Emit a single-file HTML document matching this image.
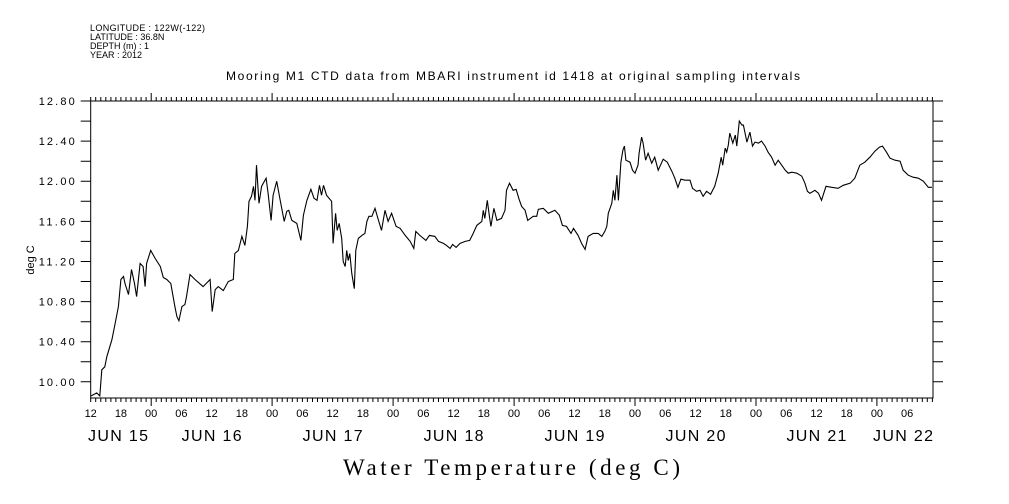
<!DOCTYPE html>
<html><head><meta charset="utf-8"><style>
body{margin:0;background:#fff;}
svg{display:block;font-family:"Liberation Sans",sans-serif;}
</style></head><body>
<svg id="chart" width="1009" height="504" viewBox="0 0 1009 504" xmlns="http://www.w3.org/2000/svg">
<rect width="1009" height="504" fill="#fff"/>
<g font-size="9" fill="#000">
<text x="90" y="31" textLength="115">LONGITUDE : 122W(-122)</text>
<text x="90" y="40">LATITUDE : 36.8N</text>
<text x="90" y="49">DEPTH (m) : 1</text>
<text x="90" y="58">YEAR : 2012</text>
</g>
<text x="226" y="80" textLength="574" font-size="12">Mooring M1 CTD data from MBARI instrument id 1418 at original sampling intervals</text>
<text transform="translate(34,260) rotate(-90)" text-anchor="middle" font-size="11">deg C</text>
<text x="343" y="475" textLength="337" font-size="23" font-family="Liberation Serif, serif">Water Temperature (deg C)</text>
<g id="axes"></g>
<g id="series"></g>
</svg>
<script>
// hours since Jun 15 12:00
const hours = [0.1,1.2,1.8,2.2,2.8,3.2,4.2,4.8,5.5,6.0,6.5,6.8,7.5,8.1,8.7,9.1,9.8,10.4,10.8,11.1,11.9,12.8,13.8,14.4,15.1,15.9,16.7,17.1,17.5,18.1,18.7,19.0,19.7,20.7,22.3,23.7,24.1,24.7,25.3,26.3,27.3,28.3,28.6,29.3,30.0,30.6,31.1,31.4,31.9,32.3,32.6,32.9,33.4,33.9,34.8,35.2,35.8,36.2,36.9,37.6,38.4,38.9,39.3,39.9,40.9,41.7,42.2,
42.9,43.7,44.3,44.9,45.4,45.8,46.2,46.8,47.8,48.1,48.6,48.9,49.3,49.8,50.1,50.5,50.8,51.1,51.4,51.8,52.3,52.6,53.1,53.8,54.4,54.8,55.2,55.8,56.4,57.1,57.7,58.4,59.0,59.7,60.6,61.4,62.4,63.4,64.1,64.5,65.3,66.5,67.2,68.3,69.0,70.0,70.6,71.3,71.8,72.5,73.3,74.3,75.2,75.9,76.6,77.6,77.9,78.2,78.7,79.1,79.4,80.0,80.6,81.5,82.2,82.5,83.1,83.8,84.4,85.0,
85.5,86.2,86.7,87.8,88.5,88.8,89.8,90.8,92.1,93.0,93.6,94.4,95.3,95.8,96.7,97.4,98.1,98.7,99.7,100.7,101.4,102.0,102.4,102.7,103.4,103.7,104.0,104.4,104.7,105.2,105.6,105.9,106.2,107.0,107.5,108.0,108.6,108.8,109.3,109.6,110.1,110.6,111.3,111.9,112.6,113.6,114.4,115.3,115.9,116.5,117.1,117.9,118.9,119.4,120.2,120.9,121.5,122.2,123.0,123.8,124.5,125.1,
125.4,125.9,126.2,126.5,126.8,127.4,127.9,128.2,128.7,129.2,129.5,130.2,130.8,131.3,131.8,132.5,133.1,133.8,134.4,135.1,135.8,136.4,137.1,137.8,138.4,139.1,140.1,141.1,141.7,142.2,142.7,143.7,144.4,145.0,145.9,147.0,148.3,149.3,150.7,151.6,152.6,153.6,154.6,155.6,156.5,157.1,157.9,158.6,159.6,160.6,161.2,162.2,163.2,164.2,165.2,166.2,166.9];
const temps = [9.86,9.89,9.86,10.12,10.15,10.25,10.42,10.57,10.75,11.02,11.05,10.98,10.87,11.12,10.98,10.85,11.18,11.15,10.95,11.18,11.31,11.23,11.15,11.04,11.02,10.98,10.75,10.65,10.61,10.75,10.77,10.85,11.07,11.02,10.95,11.02,10.70,10.92,10.95,10.91,11.00,11.02,11.28,11.31,11.45,11.36,11.55,11.80,11.85,11.95,11.81,12.16,11.78,11.95,12.03,11.88,11.61,11.86,12.00,11.81,11.60,11.70,11.71,11.61,11.58,11.41,11.66,
11.81,11.92,11.83,11.81,11.96,11.86,11.96,11.86,11.80,11.38,11.68,11.51,11.58,11.43,11.20,11.15,11.31,11.21,11.28,11.08,10.93,11.31,11.43,11.46,11.48,11.60,11.65,11.65,11.73,11.61,11.51,11.71,11.60,11.68,11.55,11.53,11.46,11.40,11.33,11.50,11.46,11.41,11.46,11.45,11.40,11.38,11.36,11.33,11.37,11.34,11.38,11.40,11.41,11.48,11.56,11.60,11.71,11.63,11.81,11.65,11.55,11.73,11.61,11.63,11.71,11.91,11.98,11.91,11.92,11.82,
11.75,11.71,11.61,11.65,11.65,11.72,11.73,11.68,11.71,11.66,11.56,11.55,11.48,11.53,11.46,11.38,11.32,11.45,11.48,11.48,11.45,11.50,11.55,11.68,11.78,11.91,11.81,12.06,11.81,12.19,12.31,12.35,12.21,12.19,12.11,12.08,12.16,12.28,12.44,12.38,12.21,12.28,12.18,12.24,12.11,12.22,12.19,12.10,12.03,11.94,12.02,12.01,12.01,11.93,11.90,11.91,11.85,11.90,11.87,11.95,12.08,12.24,
12.16,12.33,12.29,12.36,12.48,12.38,12.46,12.35,12.60,12.56,12.56,12.39,12.49,12.35,12.39,12.38,12.40,12.35,12.29,12.24,12.16,12.21,12.16,12.11,12.08,12.09,12.08,12.05,11.98,11.90,11.88,11.91,11.88,11.81,11.95,11.94,11.93,11.96,11.98,12.03,12.16,12.19,12.24,12.30,12.34,12.35,12.29,12.23,12.21,12.20,12.11,12.06,12.04,12.03,12.00,11.94,11.94];
const yTicks = [10.0,10.2,10.4,10.6,10.8,11.0,11.2,11.4,11.6,11.8,12.0,12.2,12.4,12.6,12.8];
const yLabels = ["10.00","10.40","10.80","11.20","11.60","12.00","12.40","12.80"];
const hourLabels = ["12","18","00","06","12","18","00","06","12","18","00","06","12","18","00","06","12","18","00","06","12","18","00","06","12","18","00","06"];
const dayLabels = ["JUN 15","JUN 16","JUN 17","JUN 18","JUN 19","JUN 20","JUN 21","JUN 22"];

const X0=90.7, PXH=5.04, XR=933, YT=101, PXD=100.3, YB=398, TMAX=12.8;
function xs(h){return X0+h*PXH;}
function ys(t){return YT+(TMAX-t)*PXD;}
const NS="http://www.w3.org/2000/svg";
function mk(tag,attrs,parent){const e=document.createElementNS(NS,tag);for(const k in attrs)e.setAttribute(k,attrs[k]);parent.appendChild(e);return e;}
const axes=document.getElementById('axes');
const frame=mk('rect',{x:X0,y:YT,width:XR-X0,height:YB-YT,fill:'none',stroke:'#000','stroke-width':1},axes);


let d='';
for(let h=0;xs(h)<=XR+0.1;h++){
  const x=xs(h).toFixed(1); const long=((h+12)%24===0);
  const L= long?8:4;
  d+=`M${x} ${YB}V${YB+L}M${x} ${YT}V${YT-L}`;
}
yTicks.forEach(t=>{const y=ys(t).toFixed(1);d+=`M${X0} ${y}H${X0-10}M${XR} ${y}H${XR+10}`;});
const tk=mk('path',{d:d,stroke:'#000','stroke-width':1,fill:'none'},axes);


yLabels.forEach(s=>{
  const t=mk('text',{x:X0-52,y:ys(parseFloat(s))+4,'font-size':11,textLength:36},axes);
  t.textContent=s;
  
  
});
hourLabels.forEach((s,i)=>{
  const t=mk('text',{x:xs(i*6),y:417,'text-anchor':'middle','font-size':11},axes);
  t.textContent=s;
  
  
});
dayLabels.forEach((s,i)=>{
  const x=Math.min(Math.max(xs(i*24),118),903);
  const t=mk('text',{x:x-30,y:441,'font-size':16,textLength:60},axes);
  t.textContent=s;
  
  
});
const pts=hours.map((h,i)=>xs(h).toFixed(1)+','+ys(temps[i]).toFixed(1)).join(' ');
const line=mk('polyline',{points:pts,fill:'none',stroke:'#000','stroke-width':1.1},document.getElementById('series'));


</script>
</body></html>
